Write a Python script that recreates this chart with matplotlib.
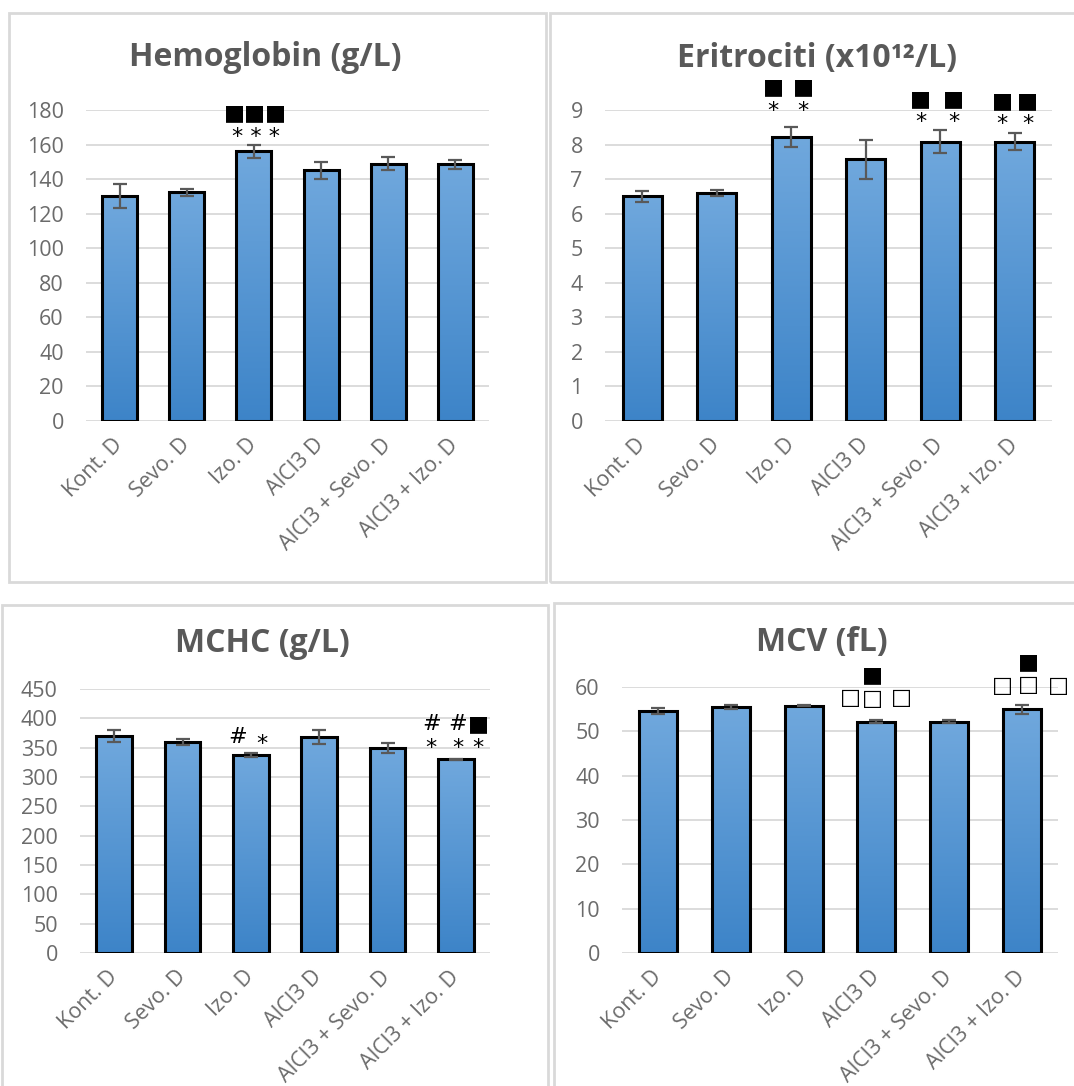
import numpy as np
import matplotlib.pyplot as plt
from matplotlib.colors import LinearSegmentedColormap
from matplotlib.patches import Rectangle

plt.rcParams['font.family'] = ['Open Sans', 'DejaVu Sans']

groups = ['Kont. D', 'Sevo. D', 'Izo. D', 'AlCl3 D', 'AlCl3 + Sevo. D', 'AlCl3 + Izo. D']

hb = [130, 132.5, 156, 145, 149, 148.5]
hb_err = [7, 2, 4, 5, 3.7, 2.6]
ery = [6.5, 6.6, 8.22, 7.57, 8.08, 8.08]
ery_err = [0.16, 0.09, 0.29, 0.57, 0.33, 0.24]
mchc = [370, 360, 338, 368, 349, 330]
mchc_err = [10.6, 5, 3.7, 12.5, 8.5, 1]
mcv = [54.5, 55.5, 55.8, 52.2, 52.2, 55.0]
mcv_err = [0.7, 0.4, 0.1, 0.4, 0.4, 1.0]

# significance marks: (symbols, x position in category units, y value)
hb_marks = [('■■■\n* * *', 2.03, 171.3)]
ery_marks = [('■\n*', 1.76, 9.32), ('■\n*', 2.16, 9.32),
             ('■\n*', 3.74, 8.99), ('■\n*', 4.18, 8.99),
             ('■\n*', 4.83, 8.92), ('■\n*', 5.17, 8.92)]
mchc_marks = [('#', 1.8, 368), ('*', 2.16, 357),
              ('#\n*', 4.64, 370), ('#\n*', 5.03, 370), ('■\n*', 5.33, 370)]
mcv_marks = [('■\n□', 2.95, 60.0), ('□', 2.64, 57.6), ('□', 3.35, 57.6),
             ('■\n□', 5.10, 63.0), ('□', 4.73, 60.3), ('□', 5.5, 60.3)]

W, H = 1074, 1086
fig = plt.figure(figsize=(W / 100, H / 100), dpi=100)

# panel frames (pixels: left, top, right, bottom)
for l, t, r, b in [(9, 13, 546, 582), (550, 13, 1080, 582), (2, 605, 548, 1095), (554, 603, 1080, 1095)]:
    fig.add_artist(Rectangle((l / W, 1 - b / H), (r - l) / W, (b - t) / H, transform=fig.transFigure,
                             fill=False, edgecolor='#d9d9d9', lw=2))

cmap = LinearSegmentedColormap.from_list('bar', ['#3d84c8', '#70a8dd'])
grey = '#6b6b6b'


def panel(rect, vals, errs, ymax, step, title, tpos, marks):
    l, t, r, b = rect
    ax = fig.add_axes([l / W, 1 - b / H, (r - l) / W, (b - t) / H])
    x = np.arange(len(groups))
    bars = ax.bar(x, vals, 0.52, color='none', edgecolor='black', lw=2.2, zorder=3)
    grad = np.linspace(0, 1, 256).reshape(-1, 1)
    for bar in bars:
        im = ax.imshow(grad, cmap=cmap, origin='lower', aspect='auto', zorder=2,
                       extent=[bar.get_x(), bar.get_x() + bar.get_width(), 0, bar.get_height()])
        im.set_clip_path(bar)
    ax.errorbar(x, vals, yerr=errs, fmt='none', ecolor='#595959', elinewidth=1.6,
                capsize=5, capthick=1.6, zorder=4)
    for sym, xs, ys in marks:
        ax.text(xs, ys, sym, ha='center', va='center', multialignment='center',
                fontsize=16, linespacing=1.2, color='black',
                family=['DejaVu Sans'], clip_on=False, zorder=5)
    ax.set_xlim(-0.5, len(groups) - 0.5)
    ax.set_ylim(0, ymax)
    ax.set_yticks(np.arange(0, ymax + step / 2, step))
    ax.set_xticks(x)
    ax.set_xticklabels(groups, rotation=45, ha='right', va='center', rotation_mode='anchor')
    ax.tick_params(length=0, labelsize=15.5, labelcolor=grey)
    ax.tick_params(axis='y', pad=16)
    ax.tick_params(axis='x', pad=15)
    ax.yaxis.grid(True, color='#d9d9d9', lw=1.3)
    ax.set_axisbelow(True)
    for s in ax.spines.values():
        s.set_visible(False)
    fig.text(tpos[0] / W, 1 - tpos[1] / H, title, ha='center', va='center',
             fontsize=23, fontweight='bold', color='#595959')
    return ax


panel((86, 110, 489, 421), hb, hb_err, 180, 20, 'Hemoglobin (g/L)', (265, 58), hb_marks)
panel((605, 110, 1052, 421), ery, ery_err, 9, 1, 'Eritrociti (x10¹²/L)', (817, 58), ery_marks)
panel((80, 689, 490, 953), mchc, mchc_err, 450, 50, 'MCHC (g/L)', (262, 643), mchc_marks)
panel((622, 687, 1058, 953), mcv, mcv_err, 60, 10, 'MCV (fL)', (822, 642), mcv_marks)

fig.savefig('out.png', dpi=100)
